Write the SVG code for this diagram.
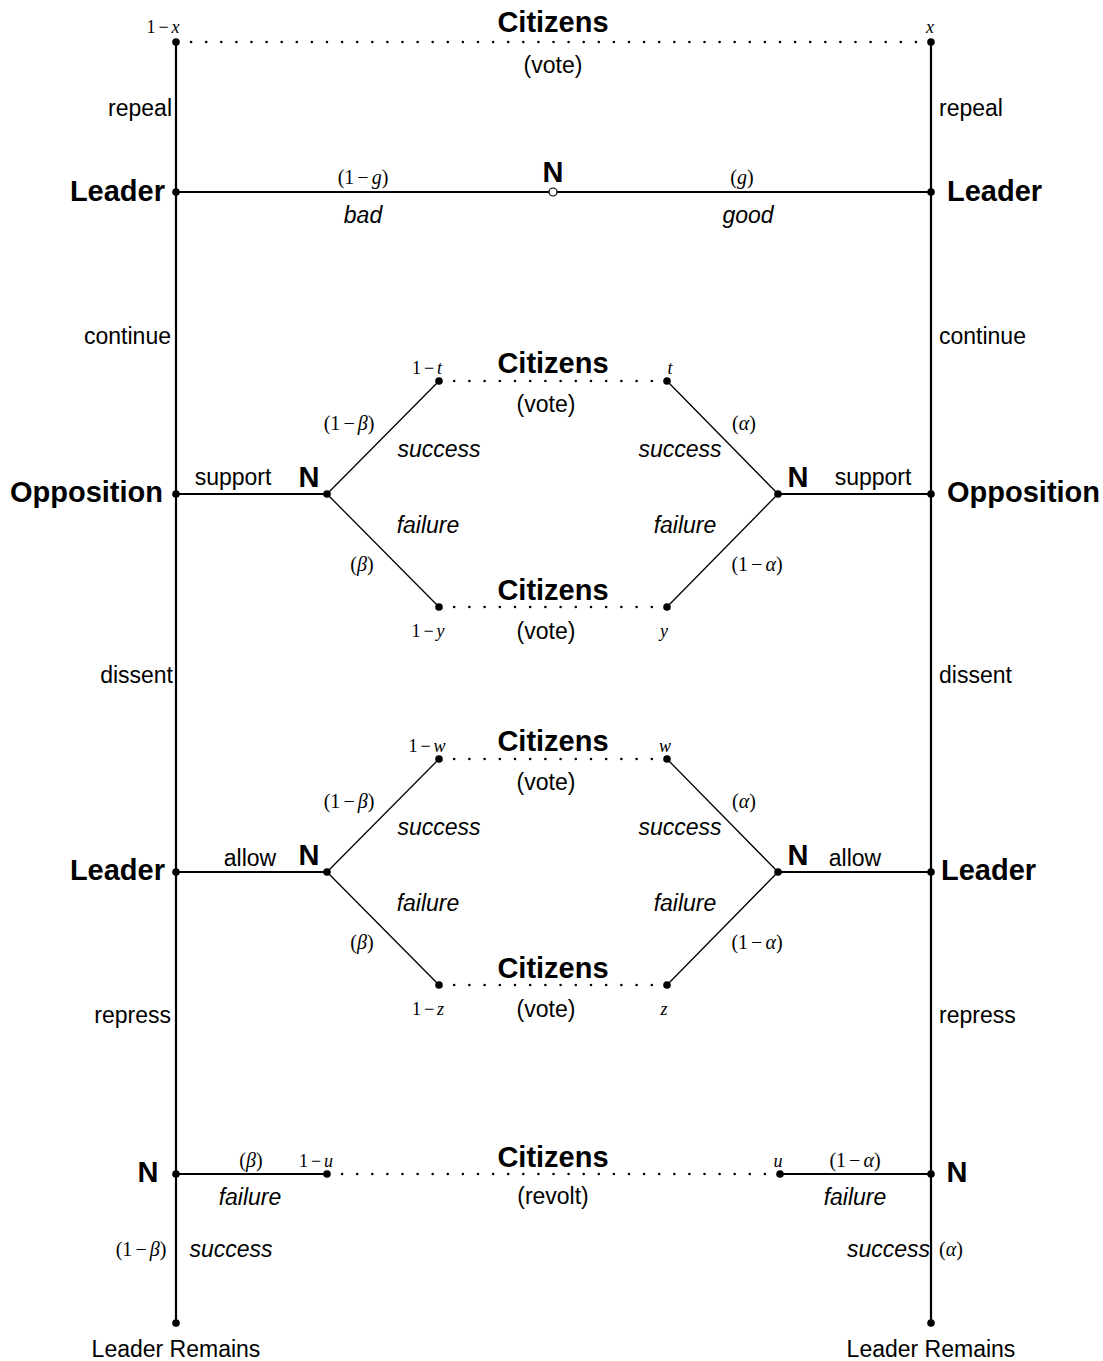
<svg xmlns="http://www.w3.org/2000/svg" width="1103" height="1361" viewBox="0 0 1103 1361">
<style>
text{font-family:"Liberation Sans",Arial,sans-serif;fill:#000}
.b{font-weight:bold;font-size:29px}
.r{font-size:23px}
.i{font-style:italic;font-size:23px}
.m{font-family:"Liberation Serif","Times New Roman",serif;font-size:18px}
.p{font-family:"Liberation Serif","Times New Roman",serif;font-size:20px}
.v{font-style:italic}
.c{text-anchor:middle}
.e{text-anchor:end}
.thick{stroke:#000;stroke-width:2.2;fill:none}
.thin{stroke:#000;stroke-width:1.3;fill:none}
.dot{stroke:#000;stroke-width:2.6;stroke-linecap:round;fill:none}
.nd{fill:#000}
.open{fill:#fff;stroke:#000;stroke-width:1.2}
</style>
<rect width="1103" height="1361" fill="#fff"/>
<g id="connectors">
<line class="thick" x1="176" y1="42" x2="176" y2="1323"/>
<line class="thick" x1="931" y1="42" x2="931" y2="1323"/>
<line class="thick" x1="176" y1="192" x2="931" y2="192"/>
<line class="dot" x1="176" y1="42" x2="931" y2="42" stroke-dasharray="0 15.1"/>
<line class="thick" x1="176" y1="494" x2="327" y2="494"/>
<line class="thin" x1="327" y1="494" x2="439" y2="381"/>
<line class="thin" x1="327" y1="494" x2="439" y2="607"/>
<line class="thick" x1="778" y1="494" x2="931" y2="494"/>
<line class="thin" x1="778" y1="494" x2="667" y2="381"/>
<line class="thin" x1="778" y1="494" x2="667" y2="607"/>
<line class="dot" x1="439" y1="381" x2="667" y2="381" stroke-dasharray="0 15.2"/>
<line class="dot" x1="439" y1="607" x2="667" y2="607" stroke-dasharray="0 15.2"/>
<line class="thick" x1="176" y1="872" x2="327" y2="872"/>
<line class="thin" x1="327" y1="872" x2="439" y2="759"/>
<line class="thin" x1="327" y1="872" x2="439" y2="985"/>
<line class="thick" x1="778" y1="872" x2="931" y2="872"/>
<line class="thin" x1="778" y1="872" x2="667" y2="759"/>
<line class="thin" x1="778" y1="872" x2="667" y2="985"/>
<line class="dot" x1="439" y1="759" x2="667" y2="759" stroke-dasharray="0 15.2"/>
<line class="dot" x1="439" y1="985" x2="667" y2="985" stroke-dasharray="0 15.2"/>
<line class="thick" x1="176" y1="1174" x2="327" y2="1174"/>
<line class="thick" x1="780" y1="1174" x2="931" y2="1174"/>
<line class="dot" x1="327" y1="1174" x2="780" y2="1174" stroke-dasharray="0 15.1"/>
</g>
<g id="info-top">
<text class="b c" x="553" y="32">Citizens</text>
<text class="r c" x="553" y="73">(vote)</text>
</g>
<g id="n-top-left"><circle class="nd" cx="176" cy="42" r="3.8"/><text class="m c" x="163" y="33">1<tspan dx="3">−</tspan><tspan dx="3" class="v">x</tspan></text></g>
<g id="n-top-right"><circle class="nd" cx="931" cy="42" r="3.8"/><text class="m c v" x="930" y="33">x</text></g>
<g id="labels-repeal">
<text class="r e" x="172" y="116">repeal</text>
<text class="r" x="939" y="116">repeal</text>
</g>
<g id="leader-left"><circle class="nd" cx="176" cy="192" r="3.8"/><text class="b e" x="165" y="201">Leader</text></g>
<g id="leader-right"><circle class="nd" cx="931" cy="192" r="3.8"/><text class="b" x="947" y="201">Leader</text></g>
<g id="chance-top">
<circle class="open" cx="553" cy="192" r="4"/>
<text class="b c" x="553" y="182">N</text>
<text class="p c" x="363" y="184">(1<tspan dx="3">−</tspan><tspan dx="3" class="v">g</tspan>)</text>
<text class="i c" x="363" y="223">bad</text>
<text class="p c" x="742" y="184">(<tspan class="v">g</tspan>)</text>
<text class="i c" x="748" y="223">good</text>
</g>
<g id="labels-continue">
<text class="r e" x="171" y="344">continue</text>
<text class="r" x="939" y="344">continue</text>
</g>
<g id="opposition-left"><circle class="nd" cx="176" cy="494" r="3.8"/><text class="b e" x="163" y="502">Opposition</text><text class="r c" x="233" y="485">support</text></g>
<g id="opposition-right"><circle class="nd" cx="931" cy="494" r="3.8"/><text class="b" x="947" y="502">Opposition</text><text class="r c" x="873" y="485">support</text></g>
<g id="chance-opp-left">
<circle class="nd" cx="327" cy="494" r="3.8"/>
<text class="b c" x="309" y="487">N</text>
<text class="p c" x="349" y="430">(1<tspan dx="3">−</tspan><tspan dx="3" class="v">β</tspan>)</text>
<text class="i c" x="439" y="457">success</text>
<text class="i c" x="428" y="533">failure</text>
<text class="p c" x="362" y="571">(<tspan class="v">β</tspan>)</text>
</g>
<g id="chance-opp-right">
<circle class="nd" cx="778" cy="494" r="3.8"/>
<text class="b c" x="798" y="487">N</text>
<text class="p c" x="744" y="430">(<tspan class="v">α</tspan>)</text>
<text class="i c" x="680" y="457">success</text>
<text class="i c" x="685" y="533">failure</text>
<text class="p c" x="757" y="571">(1<tspan dx="3">−</tspan><tspan dx="3" class="v">α</tspan>)</text>
</g>
<g id="citizens-t-left"><circle class="nd" cx="439" cy="381" r="3.8"/><text class="m c" x="427" y="374">1<tspan dx="3">−</tspan><tspan dx="3" class="v">t</tspan></text></g>
<g id="citizens-t-right"><circle class="nd" cx="667" cy="381" r="3.8"/><text class="m c v" x="670" y="374">t</text></g>
<g id="info-t"><text class="b c" x="553" y="373">Citizens</text><text class="r c" x="546" y="412">(vote)</text></g>
<g id="citizens-y-left"><circle class="nd" cx="439" cy="607" r="3.8"/><text class="m c" x="428" y="637">1<tspan dx="3">−</tspan><tspan dx="3" class="v">y</tspan></text></g>
<g id="citizens-y-right"><circle class="nd" cx="667" cy="607" r="3.8"/><text class="m c v" x="664" y="637">y</text></g>
<g id="info-y"><text class="b c" x="553" y="600">Citizens</text><text class="r c" x="546" y="639">(vote)</text></g>
<g id="labels-dissent">
<text class="r e" x="173" y="683">dissent</text>
<text class="r" x="939" y="683">dissent</text>
</g>
<g id="leader2-left"><circle class="nd" cx="176" cy="872" r="3.8"/><text class="b e" x="165" y="880">Leader</text><text class="r c" x="250" y="866">allow</text></g>
<g id="leader2-right"><circle class="nd" cx="931" cy="872" r="3.8"/><text class="b" x="941" y="880">Leader</text><text class="r c" x="855" y="866">allow</text></g>
<g id="chance-allow-left">
<circle class="nd" cx="327" cy="872" r="3.8"/>
<text class="b c" x="309" y="865">N</text>
<text class="p c" x="349" y="808">(1<tspan dx="3">−</tspan><tspan dx="3" class="v">β</tspan>)</text>
<text class="i c" x="439" y="835">success</text>
<text class="i c" x="428" y="911">failure</text>
<text class="p c" x="362" y="949">(<tspan class="v">β</tspan>)</text>
</g>
<g id="chance-allow-right">
<circle class="nd" cx="778" cy="872" r="3.8"/>
<text class="b c" x="798" y="865">N</text>
<text class="p c" x="744" y="808">(<tspan class="v">α</tspan>)</text>
<text class="i c" x="680" y="835">success</text>
<text class="i c" x="685" y="911">failure</text>
<text class="p c" x="757" y="949">(1<tspan dx="3">−</tspan><tspan dx="3" class="v">α</tspan>)</text>
</g>
<g id="citizens-w-left"><circle class="nd" cx="439" cy="759" r="3.8"/><text class="m c" x="427" y="752">1<tspan dx="3">−</tspan><tspan dx="3" class="v">w</tspan></text></g>
<g id="citizens-w-right"><circle class="nd" cx="667" cy="759" r="3.8"/><text class="m c v" x="665" y="752">w</text></g>
<g id="info-w"><text class="b c" x="553" y="751">Citizens</text><text class="r c" x="546" y="790">(vote)</text></g>
<g id="citizens-z-left"><circle class="nd" cx="439" cy="985" r="3.8"/><text class="m c" x="428" y="1015">1<tspan dx="3">−</tspan><tspan dx="3" class="v">z</tspan></text></g>
<g id="citizens-z-right"><circle class="nd" cx="667" cy="985" r="3.8"/><text class="m c v" x="664" y="1015">z</text></g>
<g id="info-z"><text class="b c" x="553" y="978">Citizens</text><text class="r c" x="546" y="1017">(vote)</text></g>
<g id="labels-repress">
<text class="r e" x="171" y="1023">repress</text>
<text class="r" x="939" y="1023">repress</text>
</g>
<g id="chance-bottom-left">
<circle class="nd" cx="176" cy="1174" r="3.8"/>
<text class="b c" x="148" y="1182">N</text>
<text class="p c" x="251" y="1167">(<tspan class="v">β</tspan>)</text>
<text class="i c" x="250" y="1205">failure</text>
<text class="p c" x="141" y="1256">(1<tspan dx="3">−</tspan><tspan dx="3" class="v">β</tspan>)</text>
<text class="i c" x="231" y="1257">success</text>
</g>
<g id="chance-bottom-right">
<circle class="nd" cx="931" cy="1174" r="3.8"/>
<text class="b c" x="957" y="1182">N</text>
<text class="p c" x="855" y="1167">(1<tspan dx="3">−</tspan><tspan dx="3" class="v">α</tspan>)</text>
<text class="i c" x="855" y="1205">failure</text>
<text class="i e" x="930" y="1257">success</text>
<text class="p c" x="951" y="1256">(<tspan class="v">α</tspan>)</text>
</g>
<g id="citizens-u-left"><circle class="nd" cx="327" cy="1174" r="3.8"/><text class="m c" x="316" y="1167">1<tspan dx="3">−</tspan><tspan dx="3" class="v">u</tspan></text></g>
<g id="citizens-u-right"><circle class="nd" cx="780" cy="1174" r="3.8"/><text class="m c v" x="778" y="1167">u</text></g>
<g id="info-u"><text class="b c" x="553" y="1167">Citizens</text><text class="r c" x="553" y="1204">(revolt)</text></g>
<g id="end-left"><circle class="nd" cx="176" cy="1323" r="3.8"/><text class="r c" x="176" y="1357">Leader Remains</text></g>
<g id="end-right"><circle class="nd" cx="931" cy="1323" r="3.8"/><text class="r c" x="931" y="1357">Leader Remains</text></g>
</svg>
